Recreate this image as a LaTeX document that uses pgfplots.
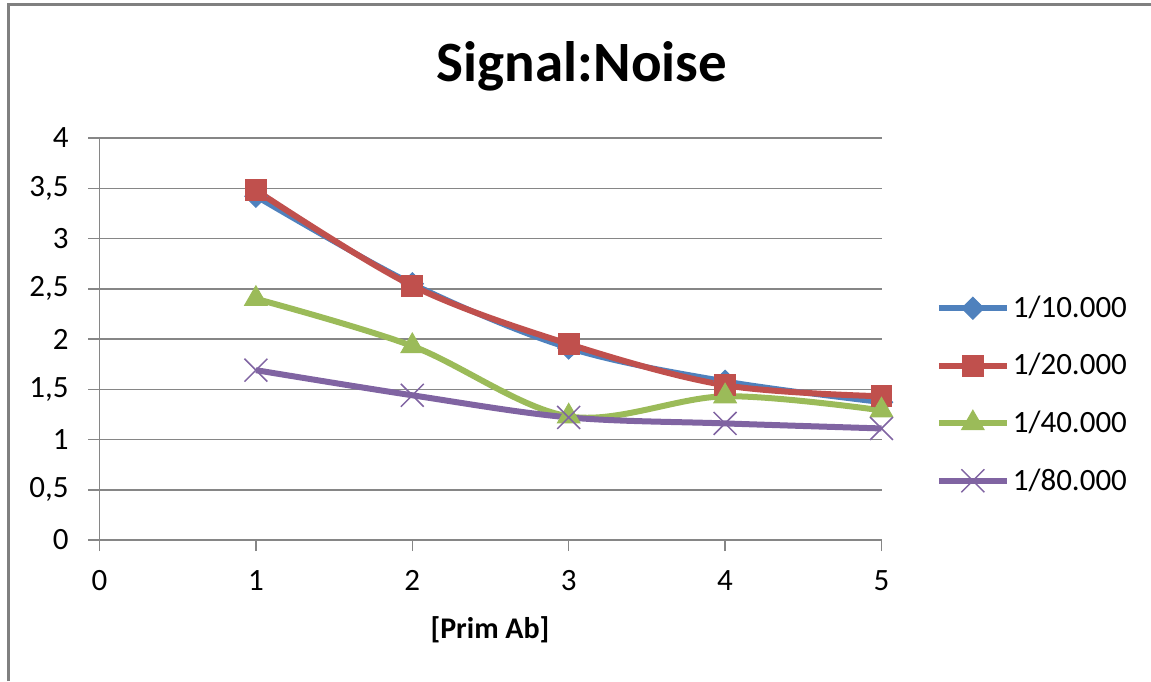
\documentclass[border=0pt]{standalone}
\usepackage{fontspec}
\setmainfont{Carlito}
\usepackage{pgfplots}
\pgfplotsset{compat=1.18}
\definecolor{s1}{HTML}{4F81BD}
\definecolor{s2}{HTML}{C0504D}
\definecolor{s3}{HTML}{9BBB59}
\definecolor{s4}{HTML}{8064A2}
\definecolor{gridc}{HTML}{868686}
\definecolor{framec}{HTML}{808080}
\begin{document}
\begin{tikzpicture}
\path[use as bounding box] (0,0) rectangle (575.5pt,340.5pt);
\draw[framec, line width=1.5pt] (4pt,0) -- (4pt,338pt) -- (575.5pt,338pt);
\node[anchor=base, font=\fontsize{28.5}{34}\selectfont\bfseries] at (291pt,299.5pt) {Signal:Noise};
\node[anchor=base, font=\fontsize{15}{18}\selectfont\bfseries] at (245pt,21.5pt) {[Prim Ab]};
\begin{axis}[
  at={(49.75pt,70.5pt)}, anchor=south west,
  scale only axis, width=391pt, height=201pt,
  xmin=0, xmax=5, ymin=0, ymax=4,
  xtick={0,1,2,3,4,5}, ytick={0,0.5,1,1.5,2,2.5,3,3.5,4},
  axis lines=left, axis line style={-, draw=gridc, line width=0.75pt},
  ymajorgrids, grid style={gridc, line width=0.75pt},
  tick align=outside, major tick length=5.5pt, tick style={gridc, line width=0.75pt},
  /pgf/number format/.cd, use comma, assume math mode=true, /pgfplots/.cd,
  tick label style={font=\fontsize{15.5}{18}\selectfont, inner sep=0pt},
  yticklabel style={anchor=east, xshift=-9.75pt},
  xticklabel style={anchor=north, yshift=-9.5pt},
  clip=false,
  legend cell align=left,
  legend style={at={(1.069,0.362)}, anchor=west, draw=none, fill=none,
    font=\fontsize{15.5}{18}\selectfont, row sep=13.5pt, inner sep=0pt,
    nodes={inner sep=1.5pt}},
  legend image code/.code={\draw[mark repeat=2,mark phase=2,#1] plot coordinates {(0pt,0pt) (17pt,0pt) (34pt,0pt)};},
]
\addplot[s1, line width=2.75pt, smooth, tension=0.55, mark=diamond*, mark size=5.5pt, mark options={fill=s1, draw=s1, line width=0.5pt, xscale=1.35}]
  coordinates {(1,3.42) (2,2.55) (3,1.91) (4,1.58) (5,1.37)};
\addlegendentry{1/10.000}
\addplot[s2, line width=3pt, smooth, tension=0.55, mark=square*, mark size=5.2pt, mark options={fill=s2, draw=s2, line width=0.5pt}]
  coordinates {(1,3.48) (2,2.53) (3,1.95) (4,1.54) (5,1.43)};
\addlegendentry{1/20.000}
\addplot[s3, line width=3pt, smooth, tension=0.55, mark=triangle*, mark size=6.5pt, mark options={fill=s3, draw=s3, line width=0.5pt}]
  coordinates {(1,2.40) (2,1.93) (3,1.23) (4,1.43) (5,1.29)};
\addlegendentry{1/40.000}
\addplot[s4, line width=3pt, smooth, tension=0.55, mark=x, mark size=8.1pt, mark options={draw=s4, line width=0.75pt}]
  coordinates {(1,1.69) (2,1.44) (3,1.22) (4,1.16) (5,1.11)};
\addlegendentry{1/80.000}
\end{axis}
\end{tikzpicture}
\end{document}
